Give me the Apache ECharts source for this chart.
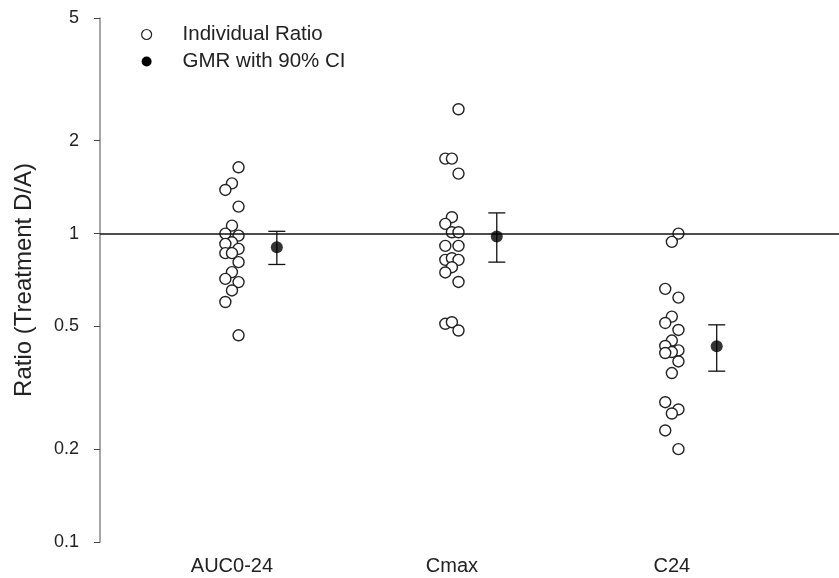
<!DOCTYPE html>
<html>
<head>
<meta charset="utf-8">
<script src="https://cdn.jsdelivr.net/npm/echarts@6/dist/echarts.min.js"></script>
<style>
  html, body { margin: 0; padding: 0; background: #fff; }
  #chart { width: 839px; height: 578px; }
</style>
</head>
<body>
<div id="chart"></div>
<script>
// PK parameters and per-subject test/reference ratios
const categories = ['AUC0-24', 'Cmax', 'C24'];

// Individual ratios per parameter, with a column slot (-1, 0, 1) to spread overlapping circles
const aucRatios = [1.64, 1.455, 1.385, 1.223, 1.061, 1.0, 0.985, 0.937, 0.926, 0.892, 0.864, 0.864, 0.808, 0.75, 0.713, 0.696, 0.654, 0.6, 0.468];
const aucSlots  = [1, 0, -1, 1, 0, -1, 1, 0, -1, 1, -1, 0, 1, 0, -1, 1, 0, -1, 1];
const cmaxRatios = [2.53, 1.75, 1.75, 1.565, 1.13, 1.075, 1.01, 1.01, 0.912, 0.912, 0.822, 0.832, 0.822, 0.778, 0.748, 0.697, 0.51, 0.516, 0.485];
const cmaxSlots  = [1, -1, 0, 1, 0, -1, 0, 1, -1, 1, -1, 0, 1, 0, -1, 1, -1, 0, 1];
const c24Ratios = [1.0, 0.94, 0.662, 0.62, 0.538, 0.513, 0.487, 0.45, 0.432, 0.418, 0.413, 0.41, 0.385, 0.353, 0.284, 0.269, 0.261, 0.23, 0.2];
const c24Slots  = [1, 0, -1, 1, 0, -1, 1, 0, -1, 1, 0, -1, 1, 0, -1, 1, 0, -1, 1];

// Geometric mean ratio with 90% confidence interval
const gmrValues = [0.903, 0.978, 0.431];
const ciLower   = [0.794, 0.808, 0.358];
const ciUpper   = [1.017, 1.167, 0.506];

// Log axis tick labels
const yTickValues = [0.1, 0.2, 0.5, 1, 2, 5];

const slotStep = 0.03;   // horizontal spread between circle columns (x units)
const gmrOffset = 0.204; // GMR marker sits to the right of each cluster

const ratioGroups = [[aucRatios, aucSlots], [cmaxRatios, cmaxSlots], [c24Ratios, c24Slots]];
const individualData = [];
ratioGroups.forEach(([vals, slots], ci) => {
  vals.forEach((v, i) => individualData.push([ci + 1 + slots[i] * slotStep, v]));
});
const gmrData = gmrValues.map((v, i) => [i + 1 + gmrOffset, v]);
const ciData = gmrValues.map((v, i) => [i + 1 + gmrOffset, ciLower[i], ciUpper[i]]);

const FONT = 'Liberation Sans, Arial, sans-serif';
const chart = echarts.init(document.getElementById('chart'), null, { renderer: 'canvas' });

chart.setOption({
  animation: false,
  backgroundColor: '#fff',
  grid: { left: 100, right: 0, top: 18, bottom: 36, containLabel: false },
  legend: {
    orient: 'vertical',
    left: 136,
    top: 19,
    itemWidth: 62,
    itemHeight: 10,
    itemGap: 6,
    selectedMode: false,
    textStyle: { fontFamily: FONT, fontSize: 20.5, color: '#222', lineHeight: 21 },
    data: [
      { name: 'Individual Ratio', icon: 'circle', itemStyle: { color: '#fff', borderColor: '#222', borderWidth: 1.2 } },
      { name: 'GMR with 90% CI', icon: 'circle', itemStyle: { color: '#000', borderWidth: 0 } }
    ]
  },
  xAxis: {
    type: 'value',
    min: 0.4,
    max: 3.76,
    axisLine: { show: false },
    axisTick: { show: false },
    splitLine: { show: false },
    axisLabel: {
      customValues: [1, 2, 3],
      formatter: v => categories[Math.round(v) - 1] || '',
      fontFamily: FONT, fontSize: 20, color: '#222', margin: 14
    }
  },
  yAxis: {
    type: 'log',
    logBase: 10,
    min: 0.1,
    max: 5,
    name: 'Ratio (Treatment D/A)',
    nameLocation: 'middle',
    nameGap: 64,
    nameTextStyle: { fontFamily: FONT, fontSize: 24, color: '#222' },
    axisLine: { show: true, lineStyle: { color: '#8a8a8a', width: 1.5 } },
    axisTick: { show: true, length: 6, customValues: yTickValues, lineStyle: { color: '#444', width: 1 } },
    splitLine: { show: false },
    minorTick: { show: false },
    axisLabel: {
      customValues: yTickValues,
      formatter: v => String(+Number(v).toPrecision(3)),
      fontFamily: FONT, fontSize: 18, color: '#222', margin: 21
    }
  },
  series: [
    {
      name: 'Individual Ratio',
      type: 'scatter',
      symbol: 'circle',
      symbolSize: 11,
      itemStyle: { color: '#fff', borderColor: '#222', borderWidth: 1.4, opacity: 1 },
      data: individualData,
      z: 3,
      markLine: {
        silent: true,
        symbol: 'none',
        label: { show: false },
        lineStyle: { color: '#111', width: 1.5, type: 'solid' },
        data: [{ yAxis: 1 }]
      }
    },
    {
      name: 'GMR with 90% CI',
      type: 'custom',
      data: ciData,
      z: 4,
      itemStyle: { color: '#000' },
      renderItem: (params, api) => {
        const x = api.value(0);
        const lo = api.coord([x, api.value(1)]);
        const hi = api.coord([x, api.value(2)]);
        const half = 8.5;
        const style = { stroke: '#111', lineWidth: 1.3 };
        return {
          type: 'group',
          children: [
            { type: 'line', shape: { x1: lo[0], y1: lo[1], x2: hi[0], y2: hi[1] }, style },
            { type: 'line', shape: { x1: lo[0] - half, y1: lo[1], x2: lo[0] + half, y2: lo[1] }, style },
            { type: 'line', shape: { x1: hi[0] - half, y1: hi[1], x2: hi[0] + half, y2: hi[1] }, style }
          ]
        };
      }
    },
    {
      name: 'GMR with 90% CI',
      type: 'scatter',
      symbol: 'circle',
      symbolSize: 12,
      itemStyle: { color: '#000', borderColor: '#000', borderWidth: 0 },
      data: gmrData,
      z: 5
    }
  ]
});
</script>
</body>
</html>
